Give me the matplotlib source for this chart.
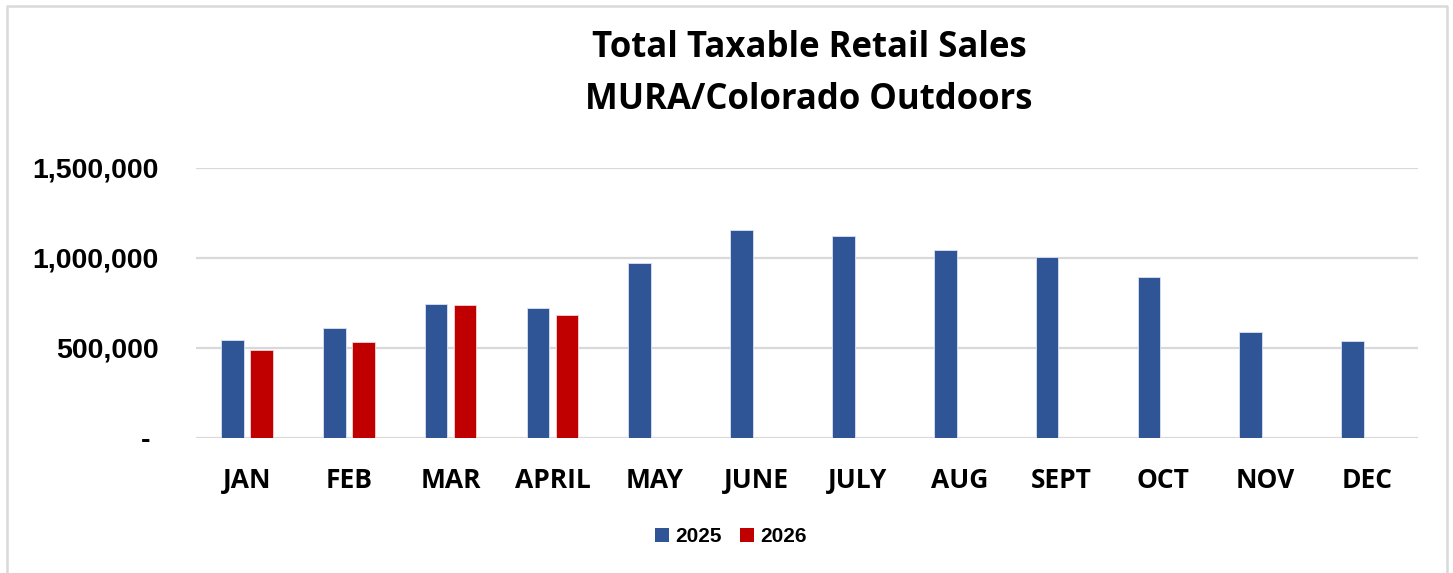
import numpy as np
import matplotlib
matplotlib.use("Agg")
import matplotlib.pyplot as plt
from matplotlib.lines import Line2D
from matplotlib.patches import Patch
from matplotlib.ticker import FuncFormatter

months = ["JAN", "FEB", "MAR", "APRIL", "MAY", "JUNE", "JULY", "AUG", "SEPT", "OCT", "NOV", "DEC"]
sales_2025 = [545000, 611000, 746000, 722000, 971000, 1154000, 1125000, 1042000, 1005000, 896000, 591000, 537000]
sales_2026 = [488000, 534000, 739000, 685000, np.nan, np.nan, np.nan, np.nan, np.nan, np.nan, np.nan, np.nan]

BLUE = "#2F5597"
RED = "#C00000"
GRID = "#D9D9D9"

fig = plt.figure(figsize=(14.53, 5.73), dpi=100)
ax = fig.add_axes([196 / 1453, 135 / 573, (1418 - 196) / 1453, 270 / 573])

x = np.arange(len(months))
w = 0.223
off = 0.1425
ax.bar(x - off, sales_2025, w, color=BLUE, edgecolor="#DCE3F0", linewidth=0.6, zorder=3)
ax.bar(x + off, sales_2026, w, color=RED, edgecolor="#F3D6D6", linewidth=0.6, zorder=3)

ax.set_xlim(-0.5, len(months) - 0.5)
ax.set_ylim(0, 1500000)
ax.set_yticks([0, 500000, 1000000, 1500000])
# accounting style: zero shown as a dash
ax.yaxis.set_major_formatter(FuncFormatter(lambda v, p: "- " if v == 0 else f"{v:,.0f}"))
ax.grid(axis="y", color=GRID, linewidth=1.6, zorder=0)
for s in ax.spines.values():
    s.set_visible(False)
ax.tick_params(axis="both", length=0)
ax.tick_params(axis="y", pad=27)
ax.tick_params(axis="x", pad=21)
ax.set_xticks(x)
ax.set_xticklabels(months, fontfamily="Open Sans", fontweight="bold", fontsize=19)
for lbl in ax.get_yticklabels():
    lbl.set_fontfamily("Liberation Sans")
    lbl.set_fontweight("bold")
    lbl.set_fontsize(20.5)

tx = 809 / 1453
fig.text(tx, 1 - 48 / 573, "Total Taxable Retail Sales", ha="center", va="center",
         fontfamily="Open Sans", fontweight="bold", fontsize=25)
fig.text(tx, 1 - 100 / 573, "MURA/Colorado Outdoors", ha="center", va="center",
         fontfamily="Open Sans", fontweight="bold", fontsize=25)

handles = [Patch(facecolor=BLUE, label="2025"), Patch(facecolor=RED, label="2026")]
fig.legend(handles=handles, loc="center", bbox_to_anchor=(731 / 1453, 1 - 537 / 573), ncol=2,
           frameon=False, handlelength=0.67, handleheight=0.67, handletextpad=0.3,
           columnspacing=0.9, prop={"family": "Liberation Sans", "weight": "bold", "size": 15})

# chart area border
bx0, bx1, by1 = 7 / 1453, 1447 / 1453, 1 - 6 / 573
fig.add_artist(Line2D([bx0, bx0, bx1, bx1], [0, by1, by1, 0], color=GRID, linewidth=1.8,
                      transform=fig.transFigure))

fig.savefig("out.png", dpi=100, facecolor="white")
